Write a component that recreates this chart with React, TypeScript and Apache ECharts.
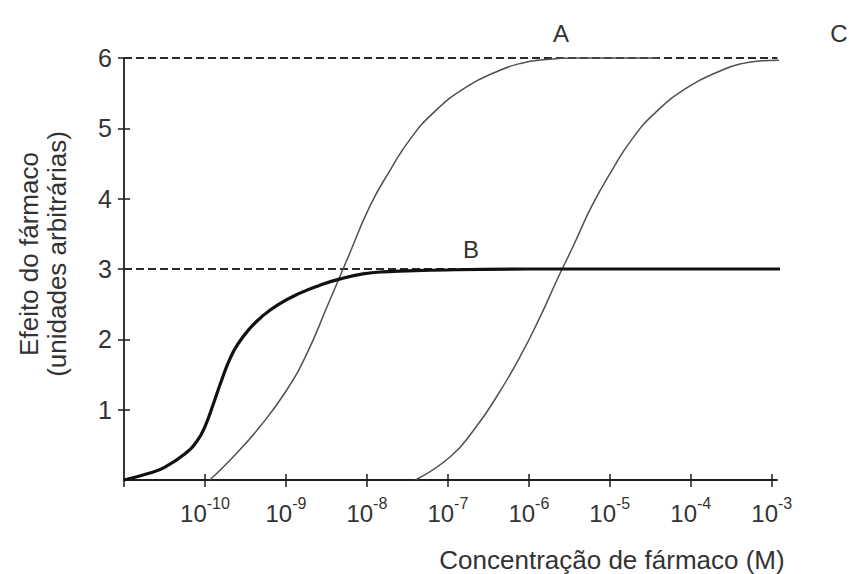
import React, { useEffect, useRef } from 'react';
import * as echarts from 'echarts';

const FONT = '"Liberation Sans", Arial, Helvetica, sans-serif';

// Concentration is plotted as log10(M); effect in arbitrary units.
const drugALogConc = [-9.94, -9.65, -9.32, -8.99, -8.74, -8.49, -8.25, -7.96, -7.71, -7.47, -7.18, -6.77, -6.35, -6.11, -5.86, -5.4, -4.4];
const drugAEffect = [0, 0.33, 0.76, 1.28, 1.8, 2.47, 3.12, 3.9, 4.41, 4.84, 5.22, 5.59, 5.83, 5.92, 5.97, 6.0, 6.0];

const drugBLogConc = [-11, -10.68, -10.5, -10.25, -10.1, -10.0, -9.9, -9.8, -9.7, -9.6, -9.45, -9.3, -9.1, -8.82, -8.58, -8.33, -8.05, -7.8, -7.3, -6, -4, -2.77];
const drugBEffect = [0, 0.1, 0.18, 0.37, 0.55, 0.76, 1.07, 1.4, 1.7, 1.92, 2.15, 2.32, 2.49, 2.66, 2.77, 2.86, 2.93, 2.96, 2.98, 3.0, 3.0, 3.0];

const drugCLogConc = [-7.4, -6.97, -6.68, -6.4, -6.11, -5.86, -5.65, -5.45, -5.22, -4.97, -4.73, -4.44, -4.03, -3.61, -3.37, -3.12, -2.87, -2.0];
const drugCEffect = [0, 0.33, 0.71, 1.18, 1.75, 2.32, 2.85, 3.33, 3.9, 4.41, 4.84, 5.22, 5.59, 5.83, 5.92, 5.96, 5.97, 5.97];

// Maximal effects (dashed reference levels)
const maxEffectLevels = [6, 3];
const referenceLineSpan = [-11, -2.93];

const decadeTicks = [-10, -9, -8, -7, -6, -5, -4, -3];
const effectTicks = [1, 2, 3, 4, 5, 6];

const curveLabels = ['A', 'B', 'C'];

const zip = (xs: number[], ys: number[]) => xs.map((x, i) => [x, ys[i]]);

export default function App() {
  const ref = useRef<HTMLDivElement>(null);

  useEffect(() => {
    if (!ref.current) return;
    const chart = echarts.init(ref.current, undefined, { renderer: 'svg' });

    const axisColor = '#1e1e1e';
    const textColor = '#333';
    const xRange = { min: -11, max: -2.935, interval: 1 };

    const curve = (name: string, xs: number[], ys: number[], color: string, width: number, z: number) => ({
      type: 'line',
      name,
      data: zip(xs, ys),
      symbol: 'none',
      smooth: 0.5,
      silent: true,
      clip: false,
      z,
      lineStyle: { color, width },
    });

    chart.setOption({
      animation: false,
      backgroundColor: '#ffffff',
      grid: { left: 124, right: 72, top: 58, bottom: 94 },
      xAxis: [
        {
          type: 'value',
          ...xRange,
          position: 'bottom',
          splitLine: { show: false },
          axisLine: { show: true, lineStyle: { color: axisColor, width: 1.8 } },
          axisTick: {
            show: true,
            inside: false,
            length: 7,
            customValues: [-11, ...decadeTicks],
            lineStyle: { color: axisColor, width: 1.5 },
          },
          axisLabel: {
            show: true,
            margin: 15,
            customValues: decadeTicks,
            formatter: (v: number) => `{b|10}{s|${v}}`,
            rich: {
              b: { fontFamily: FONT, fontSize: 24, color: textColor, lineHeight: 30, verticalAlign: 'bottom' },
              s: { fontFamily: FONT, fontSize: 16, color: textColor, lineHeight: 30, verticalAlign: 'top' },
            },
          },
        },
        {
          type: 'value',
          ...xRange,
          position: 'bottom',
          splitLine: { show: false },
          axisLine: { show: false },
          axisLabel: { show: false },
          axisTick: {
            show: true,
            inside: true,
            length: 6,
            customValues: decadeTicks,
            lineStyle: { color: axisColor, width: 1.5 },
          },
        },
      ],
      yAxis: [
        {
          type: 'value',
          min: 0,
          max: 6,
          interval: 1,
          position: 'left',
          splitLine: { show: false },
          axisLine: { show: true, lineStyle: { color: axisColor, width: 1.8 } },
          axisTick: {
            show: true,
            inside: false,
            length: 6,
            customValues: effectTicks,
            lineStyle: { color: axisColor, width: 1.5 },
          },
          axisLabel: {
            show: true,
            margin: 12,
            customValues: effectTicks,
            fontFamily: FONT,
            fontSize: 25,
            color: textColor,
          },
        },
        {
          type: 'value',
          min: 0,
          max: 6,
          interval: 1,
          position: 'left',
          splitLine: { show: false },
          axisLine: { show: false },
          axisLabel: { show: false },
          axisTick: {
            show: true,
            inside: true,
            length: 6,
            customValues: effectTicks,
            lineStyle: { color: axisColor, width: 1.5 },
          },
        },
      ],
      series: [
        ...maxEffectLevels.map((level) => ({
          type: 'line',
          name: `max-${level}`,
          data: referenceLineSpan.map((x) => [x, level]),
          symbol: 'none',
          silent: true,
          clip: false,
          z: 1,
          lineStyle: { color: '#2a2a2a', width: 2.2, type: [8, 4] },
        })),
        curve('A', drugALogConc, drugAEffect, '#505050', 1.5, 2),
        curve('C', drugCLogConc, drugCEffect, '#505050', 1.5, 2),
        curve('B', drugBLogConc, drugBEffect, '#111111', 3.2, 3),
      ],
      graphic: [
        {
          type: 'text',
          x: 561,
          y: 33,
          style: { text: curveLabels[0], font: `24px ${FONT}`, fill: textColor, align: 'center', verticalAlign: 'middle' },
        },
        {
          type: 'text',
          x: 471,
          y: 249,
          style: { text: curveLabels[1], font: `24px ${FONT}`, fill: textColor, align: 'center', verticalAlign: 'middle' },
        },
        {
          type: 'text',
          x: 839,
          y: 33,
          style: { text: curveLabels[2], font: `24px ${FONT}`, fill: textColor, align: 'center', verticalAlign: 'middle' },
        },
        {
          type: 'text',
          x: 612,
          y: 560,
          style: {
            text: 'Concentração de fármaco (M)',
            font: `26px ${FONT}`,
            fill: textColor,
            align: 'center',
            verticalAlign: 'middle',
          },
        },
        {
          type: 'text',
          x: 43,
          y: 254,
          rotation: Math.PI / 2,
          style: {
            text: 'Efeito do fármaco\n(unidades arbitrárias)',
            font: `26px ${FONT}`,
            lineHeight: 28,
            fill: textColor,
            align: 'center',
            verticalAlign: 'middle',
          },
        },
      ],
    });

    return () => chart.dispose();
  }, []);

  return (
    <div
      ref={ref}
      style={{ position: 'fixed', left: 0, top: 0, width: 849, height: 574, background: '#fff' }}
    />
  );
}
